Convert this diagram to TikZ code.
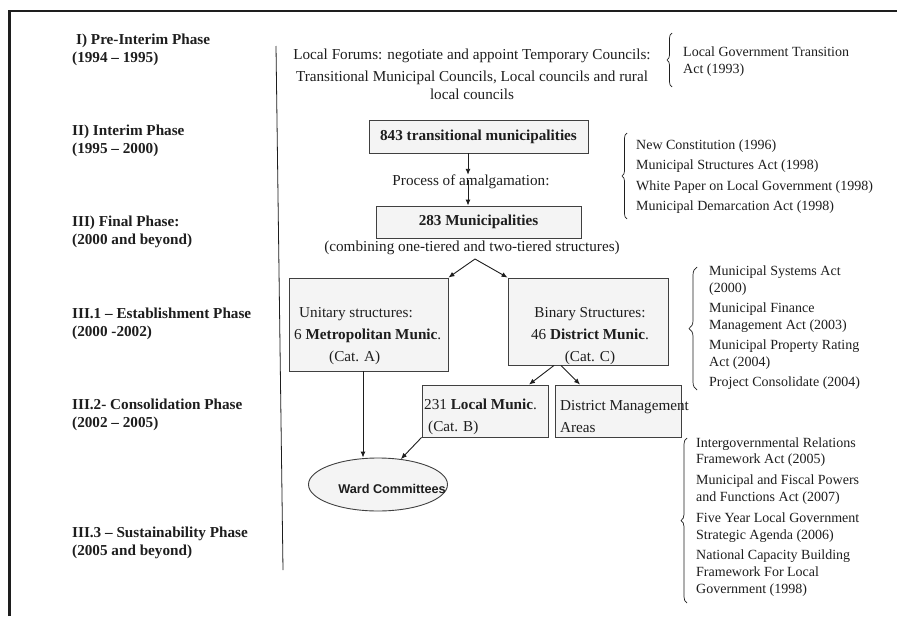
\documentclass[tikz,border=0pt]{standalone}
\usepackage{fontspec}
\setmainfont{Liberation Serif}
\newfontfamily\wardfont{Liberation Sans}
\usetikzlibrary{arrows.meta,decorations.pathreplacing,shapes.geometric}
\definecolor{ink}{HTML}{1E1E1E}
\definecolor{boxfill}{HTML}{F4F4F4}
\begin{document}
\begin{tikzpicture}[x=1pt,y=-1pt,
  every node/.style={text=ink, inner sep=0pt},
  main/.style={font=\fontsize{15.2}{18}\selectfont},
  boldmain/.style={font=\fontsize{15.2}{18}\selectfont\bfseries},
  phase/.style={font=\fontsize{15.2}{18}\selectfont\bfseries, align=left, anchor=west},
  acts/.style={font=\fontsize{14}{16.8}\selectfont, align=left, anchor=west},
  box/.style={draw=ink!85, fill=boxfill, line width=0.9pt},
  arr/.style={draw=ink, line width=0.9pt, -{Latex[length=6pt,width=5pt]}},
  brc/.style={draw=ink, line width=0.7pt, decorate, decoration={brace, amplitude=#1}},
  brc/.default=5pt
]
\useasboundingbox (0,0) rectangle (897,616);
\fill[white] (0,0) rectangle (897,616);
\draw[ink, line width=2.3pt] (9.5,616) -- (9.5,11) -- (897,11);

% phase labels
\node[phase] (p1) at (72,49.5) {\hspace{4pt}I) Pre-Interim Phase\\(1994 – 1995)};
\node[phase] (p2) at (72,141) {II) Interim Phase\\(1995 – 2000)};
\node[phase] (p3) at (72,232) {III) Final Phase:\\(2000 and beyond)};
\node[phase] (p4) at (72,324) {III.1 – Establishment Phase\\(2000 -2002)};
\node[phase] (p5) at (72,415) {III.2- Consolidation Phase\\(2002 – 2005)};
\node[phase] (p6) at (72,543) {III.3 – Sustainability Phase\\(2005 and beyond)};

% divider
\draw[ink, line width=0.8pt] (276,46) -- (283,570);

% flow
\node[main, align=center] (forums) at (472,74) {Local Forums: negotiate and appoint Temporary Councils:\\[4pt] Transitional Municipal Councils, Local councils and rural\\ local councils};
\node[box, boldmain, minimum width=219, minimum height=33] (b843) at (478.5,136.5) {843 transitional municipalities};
\node[main] (proc) at (471,182) {Process of amalgamation:};
\node[box, boldmain, minimum width=205, minimum height=32] (b283) at (478.5,222) {\raisebox{-3pt}{283 Municipalities}};
\node[main] (comb) at (472,248) {(combining one-tiered and two-tiered structures)};
\coordinate (fork) at (475,259);

\node[box, minimum width=159, minimum height=93] (uni) at (368.5,324.5) {};
\node[main, align=left, anchor=west] (unit) at (294,336) {\hspace{5pt}Unitary structures:\\[4pt]6 \textbf{Metropolitan Munic}.\\[4pt]\hspace{35pt}(Cat. A)};
\node[box, minimum width=160, minimum height=87] (bin) at (588,321.5) {};
\node[main, align=center] (bint) at (590,336) {Binary Structures:\\[4pt]46 \textbf{District Munic}.\\[4pt](Cat. C)};
\node[box, minimum width=126, minimum height=52] (loc) at (485,411) {};
\node[main, align=left, anchor=west] (loct) at (424,417) {231 \textbf{Local Munic}.\\[4pt]\hspace{4pt}(Cat. B)};
\node[box, minimum width=126, minimum height=52] (dma) at (618,411) {};
\node[main, align=left, anchor=west] (dmat) at (560,417) {District Management\\[4pt]Areas};
\node[draw=ink!85, fill=boxfill, line width=0.9pt, ellipse, minimum width=139, minimum height=53] (ward) at (378,484.5) {};
\node[font=\fontsize{12.7}{15}\wardfont\bfseries] (wardt) at (392,489) {Ward Committees};

% connectors
\draw[arr] ([xshift=-10.5]b843.south) -- ([xshift=-3]proc.north);
\draw[arr] ([xshift=-3,yshift=2]proc.center) -- ([xshift=-10.5]b283.north);
\draw[arr] (fork) -- (uni.north east);
\draw[arr] (fork) -- (bin.north west);
\draw[arr] ([xshift=-34]bin.south) -- ([xshift=44]loc.north);
\draw[arr] ([xshift=-27]bin.south) -- ([xshift=-38]dma.north);
\coordinate (u1) at ([xshift=-5.5]uni.south);
\draw[arr] (u1) -- (u1 |- ward.north);
\draw[arr] (loc.south west) -- (ward.48);

% braces and acts
\draw[brc=5pt] (672,87) -- (672,33);
\node[acts] (a1) at (683,61.5) {Local Government Transition\\Act (1993)};
\draw[brc=5pt] (627,219) -- (627,133);
\node[acts] (a2) at (636,176.5) {New Constitution (1996)\\[3.5pt]Municipal Structures Act (1998)\\[3.5pt]White Paper on Local Government (1998)\\[3.5pt]Municipal Demarcation Act (1998)};
\draw[brc=8pt] (697,390) -- (697,267);
\node[acts] (a3) at (709,327.5) {Municipal Systems Act\\(2000)\\[3.5pt]Municipal Finance\\Management Act (2003)\\[3.5pt]Municipal Property Rating\\Act (2004)\\[3.5pt]Project Consolidate (2004)};
\draw[brc=6pt] (687,603) -- (687,438);
\node[acts] (a4) at (696,517) {Intergovernmental Relations\\Framework Act (2005)\\[4pt]Municipal and Fiscal Powers\\and Functions Act (2007)\\[4pt]Five Year Local Government\\Strategic Agenda (2006)\\[4pt]National Capacity Building\\Framework For Local\\Government (1998)};
\end{tikzpicture}
\end{document}
